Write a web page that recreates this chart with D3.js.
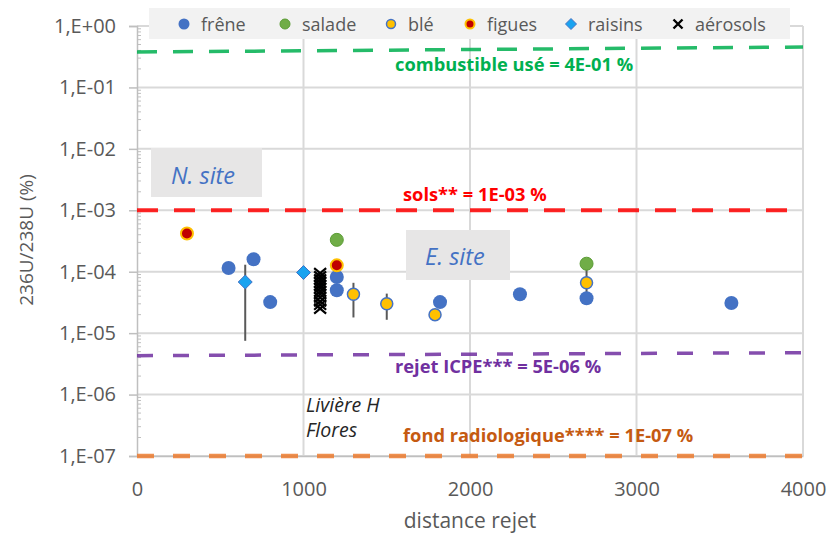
<!DOCTYPE html>
<html>
<head>
<meta charset="utf-8">
<script src="https://cdn.jsdelivr.net/npm/d3@7/dist/d3.min.js"></script>
<style>
  body { margin: 0; background: #fff; }
  text { font-family: "Open Sans", sans-serif; }
</style>
</head>
<body>
<div id="chart"></div>
<script>
// --- dimensions ---
const W = 832, H = 539;
const margin = { top: 26, right: 29, bottom: 83, left: 137 };
const w = W - margin.left - margin.right;
const h = H - margin.top - margin.bottom;

// --- données ---
const freneX = [550, 700, 800, 1200, 1200, 1820, 2300, 2700, 3570];
const freneY = [1.15e-4, 1.6e-4, 3.2e-5, 8.2e-5, 5.0e-5, 3.2e-5, 4.3e-5, 3.7e-5, 3.1e-5];
const saladeX = [1200, 2700];
const saladeY = [3.3e-4, 1.35e-4];
const bleX = [1300, 1500, 1790, 2700];
const bleY = [4.3e-5, 3.0e-5, 2.0e-5, 6.6e-5];
const figuesX = [300, 1200];
const figuesY = [4.2e-4, 1.27e-4];
const raisinsX = [650, 1000];
const raisinsY = [6.8e-5, 9.7e-5];
const aerosolsX = [1100, 1100, 1100, 1100, 1100, 1100, 1100, 1100, 1100, 1100, 1100, 1100];
const aerosolsY = [9.5e-5, 8.4e-5, 7.5e-5, 6.7e-5, 6.0e-5, 5.4e-5, 4.8e-5, 4.3e-5, 3.8e-5, 3.3e-5, 2.9e-5, 2.5e-5];

// barres d'erreur
const errX = [650, 1300, 1500, 2700];
const errLow = [7.5e-6, 1.8e-5, 1.65e-5, 4.2e-5];
const errHigh = [1.3e-4, 6.6e-5, 4.4e-5, 1.1e-4];

// lignes de référence (début / fin)
const refNames = ["combustible usé = 4E-01 %", "sols** = 1E-03 %", "rejet ICPE*** = 5E-06 %", "fond radiologique**** = 1E-07 %"];
const refStart = [0.377, 1e-3, 4.3e-6, 1e-7];
const refEnd = [0.455, 1e-3, 4.8e-6, 1e-7];

const xTicks = [0, 1000, 2000, 3000, 4000];
const yTicks = [1e-7, 1e-6, 1e-5, 1e-4, 1e-3, 1e-2, 1e-1, 1];

const legendNames = ["frêne", "salade", "blé", "figues", "raisins", "aérosols"];

// --- svg ---
const svg = d3.select("#chart").append("svg").attr("width", W).attr("height", H);
const g = svg.append("g").attr("transform", `translate(${margin.left},${margin.top})`);

const x = d3.scaleLinear().domain([0, 4000]).range([0, w]);
const y = d3.scaleLog().domain([1e-7, 1]).range([h, 0]);

// grille
g.selectAll("line.hgrid").data(yTicks).enter().append("line")
  .attr("x1", 0).attr("x2", w).attr("y1", d => y(d)).attr("y2", d => y(d))
  .attr("stroke", "#d9d9d9").attr("stroke-width", 2);
g.selectAll("line.vgrid").data(xTicks.slice(1)).enter().append("line")
  .attr("x1", d => x(d)).attr("x2", d => x(d)).attr("y1", 0).attr("y2", h)
  .attr("stroke", "#d9d9d9").attr("stroke-width", 2);

// axe Y
const fmt = d => { const e = Math.round(Math.log10(d)); return "1,E" + (e < 0 ? "-" : "+") + String(Math.abs(e)).padStart(2, "0"); };
const yAxis = g.append("g").call(d3.axisLeft(y).tickValues(yTicks).tickFormat(fmt).tickSize(8).tickPadding(13));
yAxis.select(".domain").attr("stroke", "#bfbfbf").attr("stroke-width", 1.5);
yAxis.selectAll(".tick line").attr("stroke", "#bfbfbf").attr("stroke-width", 1.5);
yAxis.selectAll("text").style("font-size", "20px").attr("fill", "#595959");

// ticks mineurs
const minor = [];
yTicks.slice(0, -1).forEach(t => { for (let k = 2; k <= 9; k++) minor.push(t * k); });
g.selectAll("line.minor").data(minor).enter().append("line")
  .attr("x1", 0).attr("x2", 4).attr("y1", d => y(d)).attr("y2", d => y(d))
  .attr("stroke", "#bfbfbf").attr("stroke-width", 1);

// axe X
const xAxis = g.append("g").attr("transform", `translate(0,${h})`)
  .call(d3.axisBottom(x).tickValues(xTicks).tickFormat(d3.format("d")).tickSize(0).tickPadding(26));
xAxis.select(".domain").attr("stroke", "#bfbfbf").attr("stroke-width", 1.5);
xAxis.selectAll("text").style("font-size", "20px").attr("fill", "#595959");

// titres
svg.append("text").attr("x", margin.left + w / 2).attr("y", 528)
  .attr("text-anchor", "middle").style("font-size", "21px").attr("fill", "#595959").text("distance rejet");
svg.append("text").attr("transform", "translate(26,240) rotate(-90)")
  .attr("text-anchor", "middle").attr("dy", "0.35em").style("font-size", "19px").attr("fill", "#595959").text("236U/238U (%)");

// lignes de référence
const refColors = ["#00b050", "#ff0000", "#7030a0", "#ed7d31"];
const refTextColors = ["#00b050", "#ff0000", "#7030a0", "#c55a11"];
const refDash = ["20,16", "21,16", "16,20", "17,19"];
const refWidth = [3.5, 4, 3.5, 4.5];
refNames.forEach((n, i) => {
  g.append("line")
    .attr("x1", x(0)).attr("x2", x(4000))
    .attr("y1", y(refStart[i])).attr("y2", y(refEnd[i]))
    .attr("stroke", refColors[i]).attr("stroke-width", refWidth[i])
    .attr("stroke-dasharray", refDash[i]).attr("opacity", 0.85);
});

// textes des lignes
const refLabelPos = [[395, 71], [403, 201], [395, 373], [403, 442]];
refNames.forEach((n, i) => {
  svg.append("text").attr("x", refLabelPos[i][0]).attr("y", refLabelPos[i][1])
    .style("font-size", "18.3px").style("font-weight", "bold")
    .attr("fill", refTextColors[i]).text(n);
});

// barres d'erreur
g.selectAll("line.err").data(errX).enter().append("line")
  .attr("x1", d => x(d)).attr("x2", d => x(d))
  .attr("y1", (d, i) => y(errLow[i])).attr("y2", (d, i) => y(errHigh[i]))
  .attr("stroke", "#595959").attr("stroke-width", 2);

// séries
const zipPts = (xs, ys) => xs.map((v, i) => [v, ys[i]]);

g.selectAll("path.aer").data(zipPts(aerosolsX, aerosolsY)).enter().append("path")
  .attr("transform", d => `translate(${x(d[0])},${y(d[1])})`)
  .attr("d", "M-6,-5L6,5M-6,5L6,-5")
  .attr("stroke", "#000").attr("stroke-width", 2.2);

g.selectAll("circle.frene").data(zipPts(freneX, freneY)).enter().append("circle")
  .attr("cx", d => x(d[0])).attr("cy", d => y(d[1])).attr("r", 7)
  .attr("fill", "#4472c4");

g.selectAll("circle.salade").data(zipPts(saladeX, saladeY)).enter().append("circle")
  .attr("cx", d => x(d[0])).attr("cy", d => y(d[1])).attr("r", 6.5)
  .attr("fill", "#70ad47").attr("stroke", "#5b9c35").attr("stroke-width", 1);

g.selectAll("circle.ble").data(zipPts(bleX, bleY)).enter().append("circle")
  .attr("cx", d => x(d[0])).attr("cy", d => y(d[1])).attr("r", 6)
  .attr("fill", "#ffc000").attr("stroke", "#4472c4").attr("stroke-width", 1.5);

g.selectAll("circle.figues").data(zipPts(figuesX, figuesY)).enter().append("circle")
  .attr("cx", d => x(d[0])).attr("cy", d => y(d[1])).attr("r", 6)
  .attr("fill", "#c00000").attr("stroke", "#ffc000").attr("stroke-width", 2);

g.selectAll("path.raisins").data(zipPts(raisinsX, raisinsY)).enter().append("path")
  .attr("transform", d => `translate(${x(d[0])},${y(d[1])})`)
  .attr("d", "M0,-7L7,0L0,7L-7,0Z")
  .attr("fill", "#1aa3f0").attr("stroke", "#4472c4").attr("stroke-width", 1);

// étiquettes de zone
const boxes = [
  { t: "N. site", x: 151, y: 148, w: 111, h: 49, tx: 171, ty: 184 },
  { t: "E. site", x: 406, y: 230, w: 104, h: 50, tx: 425, ty: 265 }
];
boxes.forEach(b => {
  svg.append("rect").attr("x", b.x).attr("y", b.y).attr("width", b.w).attr("height", b.h).attr("fill", "#e7e6e6");
  svg.append("text").attr("x", b.tx).attr("y", b.ty)
    .style("font-size", "23.5px").style("font-style", "italic").attr("fill", "#4472c4").text(b.t);
});

svg.append("text").attr("x", 306).attr("y", 412).style("font-size", "19.5px").style("font-style", "italic").attr("fill", "#262626").text("Livière H");
svg.append("text").attr("x", 306).attr("y", 437).style("font-size", "19.5px").style("font-style", "italic").attr("fill", "#262626").text("Flores");

// légende
const leg = svg.append("g");
leg.append("rect").attr("x", 149).attr("y", 8).attr("width", 641).attr("height", 31).attr("fill", "#f2f2f2");
const legX = [184, 285, 391, 470, 571, 678];
legendNames.forEach((n, i) => {
  const cx = legX[i], cy = 24;
  if (i === 0) leg.append("circle").attr("cx", cx).attr("cy", cy).attr("r", 5.5).attr("fill", "#4472c4");
  if (i === 1) leg.append("circle").attr("cx", cx).attr("cy", cy).attr("r", 5).attr("fill", "#70ad47").attr("stroke", "#5b9c35");
  if (i === 2) leg.append("circle").attr("cx", cx).attr("cy", cy).attr("r", 4.5).attr("fill", "#ffc000").attr("stroke", "#4472c4").attr("stroke-width", 1.5);
  if (i === 3) leg.append("circle").attr("cx", cx).attr("cy", cy).attr("r", 4.5).attr("fill", "#c00000").attr("stroke", "#ffc000").attr("stroke-width", 2);
  if (i === 4) leg.append("path").attr("transform", `translate(${cx},${cy})`).attr("d", "M0,-5.5L5.5,0L0,5.5L-5.5,0Z").attr("fill", "#1aa3f0").attr("stroke", "#4472c4");
  if (i === 5) leg.append("path").attr("transform", `translate(${cx},${cy})`).attr("d", "M-4.5,-4.5L4.5,4.5M-4.5,4.5L4.5,-4.5").attr("stroke", "#000").attr("stroke-width", 2.4);
  leg.append("text").attr("x", cx + 17).attr("y", cy + 7).style("font-size", "18px").attr("fill", "#595959").text(n);
});
</script>
</body>
</html>
